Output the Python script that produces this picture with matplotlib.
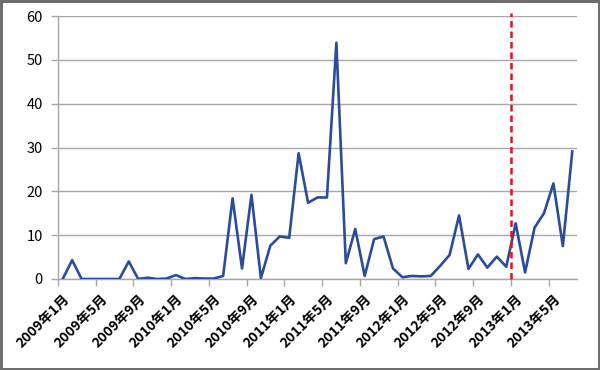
import matplotlib.pyplot as plt
import numpy as np

plt.rcParams['font.family'] = ['Noto Sans CJK SC', 'DejaVu Sans']

# monthly values, 2009年1月 .. 2013年7月
values = [0, 4.3, 0, 0, 0, 0, 0, 4.0, 0, 0.3,
          0, 0.1, 0.9, 0, 0.2, 0.1, 0.1, 0.7, 18.4, 2.4,
          19.2, 0.2, 7.6, 9.7, 9.4, 28.7, 17.4, 18.6, 18.6, 53.9,
          3.6, 11.4, 0.7, 9.1, 9.7, 2.4, 0.4, 0.7, 0.6, 0.7,
          3.0, 5.5, 14.5, 2.3, 5.6, 2.6, 5.1, 2.8, 12.7, 1.5,
          11.7, 15.0, 21.8, 7.5, 29.1]
tick_labels = ['2009年1月', '2009年5月', '2009年9月', '2010年1月', '2010年5月',
               '2010年9月', '2011年1月', '2011年5月', '2011年9月', '2012年1月',
               '2012年5月', '2012年9月', '2013年1月', '2013年5月']
split_month = 48  # 2013年1月

x = np.arange(len(values))

fig = plt.figure(figsize=(6, 3.7), dpi=100)
fig.patch.set_edgecolor('#6e6e6e')
fig.patch.set_linewidth(2.5)
ax = fig.add_axes([58 / 600, 1 - 279 / 370, 519 / 600, 263 / 370])

ax.plot(x, values, color='#2b4c9b', linewidth=1.9, zorder=3)
ax.axvline(split_month - 0.5, ymin=0, ymax=1.01, color='#e8101c', linewidth=1.8,
           linestyle=(0, (2.6, 1.6)), zorder=4, clip_on=False)

ax.set_xlim(-0.5, len(values) - 0.5)
ax.set_ylim(0, 60)
ax.set_yticks(range(0, 61, 10))
ax.yaxis.grid(True, color='#a8a8a8', linewidth=1.0)
ax.set_axisbelow(True)

ax.set_xticks(np.arange(-0.5, len(values), 4))
ax.set_xticklabels([])
ax.set_xticks(np.arange(0, len(values), 4), minor=True)
ax.set_xticklabels(tick_labels, minor=True, rotation=45, ha='right', va='top',
                   rotation_mode='anchor', fontsize=10, fontweight='bold')
ax.tick_params(axis='x', which='minor', length=0, pad=9)
ax.tick_params(axis='x', which='major', length=5, color='#a8a8a8', width=1)
ax.tick_params(axis='y', length=5, color='#a8a8a8', width=1, labelsize=10.5, pad=6)

for s in ['top', 'right']:
    ax.spines[s].set_visible(False)
for s in ['left', 'bottom']:
    ax.spines[s].set_color('#a8a8a8')
    ax.spines[s].set_linewidth(1.0)

plt.savefig('out.png', dpi=100)
plt.close()
